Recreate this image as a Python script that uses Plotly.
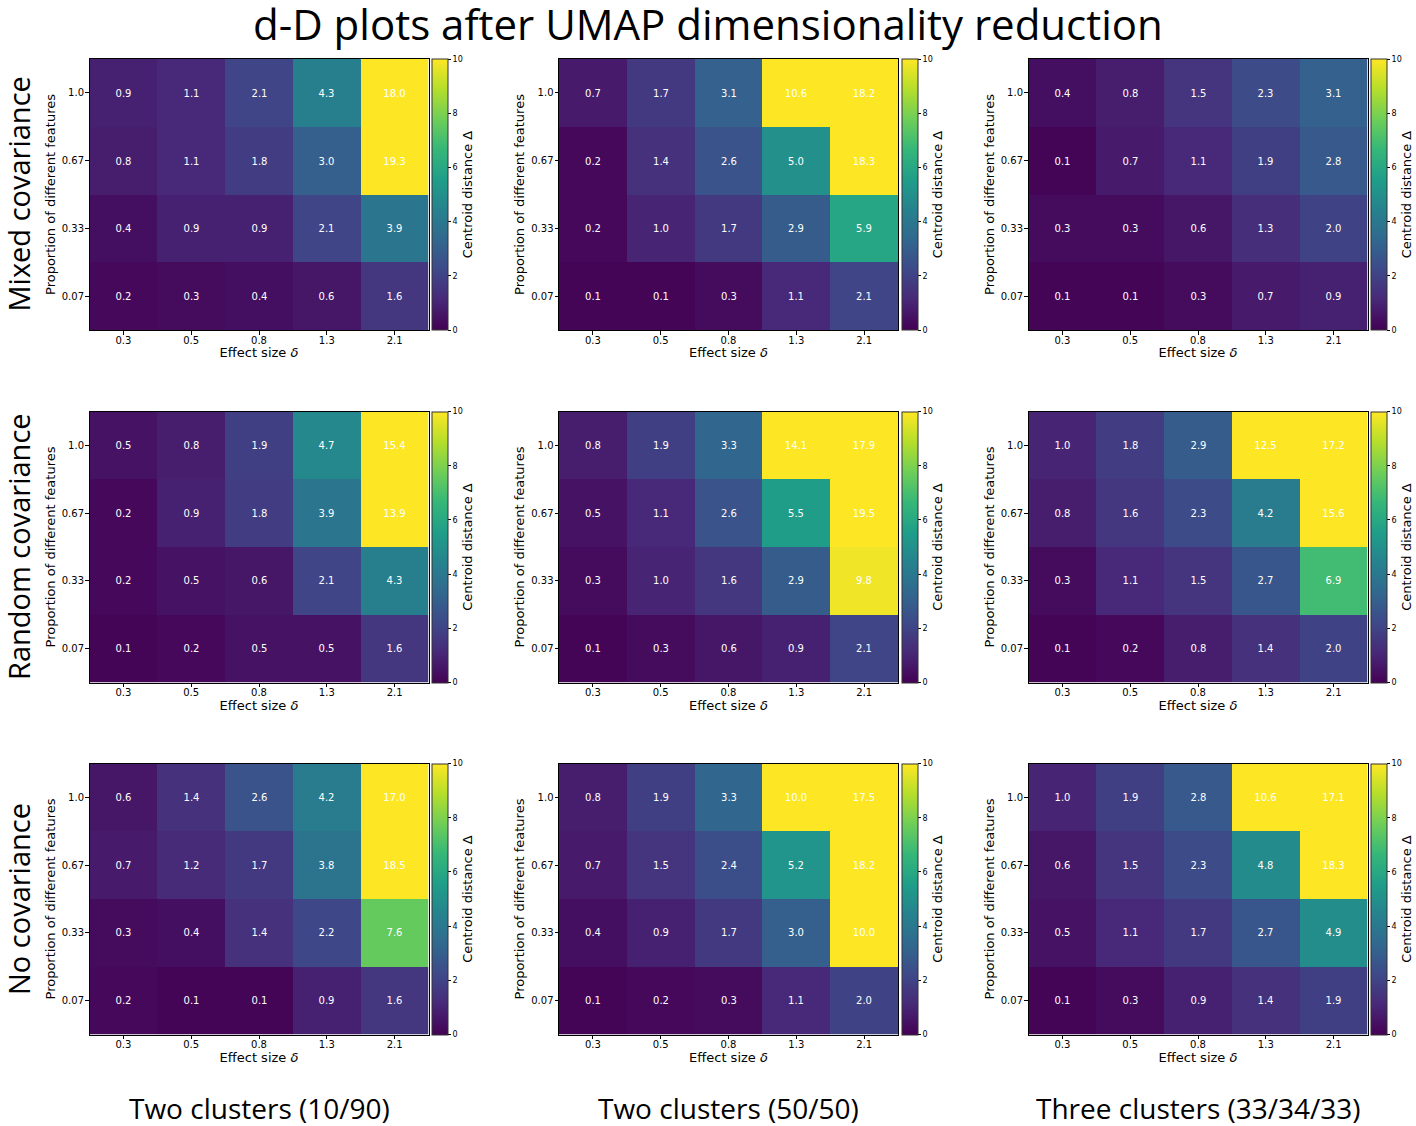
import plotly.graph_objects as go

effect_sizes = ["0.3", "0.5", "0.8", "1.3", "2.1"]
proportions = ["0.07", "0.33", "0.67", "1.0"]
row_labels = ["Mixed covariance", "Random covariance", "No covariance"]
col_labels = ["Two clusters (10/90)", "Two clusters (50/50)", "Three clusters (33/34/33)"]
title_text = "d-D plots after UMAP dimensionality reduction"

# rows of each matrix go from proportion 0.07 (bottom) to 1.0 (top)
mixed_10_90 = [[0.2, 0.3, 0.4, 0.6, 1.6],
               [0.4, 0.9, 0.9, 2.1, 3.9],
               [0.8, 1.1, 1.8, 3.0, 19.3],
               [0.9, 1.1, 2.1, 4.3, 18.0]]
mixed_50_50 = [[0.1, 0.1, 0.3, 1.1, 2.1],
               [0.2, 1.0, 1.7, 2.9, 5.9],
               [0.2, 1.4, 2.6, 5.0, 18.3],
               [0.7, 1.7, 3.1, 10.6, 18.2]]
mixed_three = [[0.1, 0.1, 0.3, 0.7, 0.9],
               [0.3, 0.3, 0.6, 1.3, 2.0],
               [0.1, 0.7, 1.1, 1.9, 2.8],
               [0.4, 0.8, 1.5, 2.3, 3.1]]
random_10_90 = [[0.1, 0.2, 0.5, 0.5, 1.6],
                [0.2, 0.5, 0.6, 2.1, 4.3],
                [0.2, 0.9, 1.8, 3.9, 13.9],
                [0.5, 0.8, 1.9, 4.7, 15.4]]
random_50_50 = [[0.1, 0.3, 0.6, 0.9, 2.1],
                [0.3, 1.0, 1.6, 2.9, 9.8],
                [0.5, 1.1, 2.6, 5.5, 19.5],
                [0.8, 1.9, 3.3, 14.1, 17.9]]
random_three = [[0.1, 0.2, 0.8, 1.4, 2.0],
                [0.3, 1.1, 1.5, 2.7, 6.9],
                [0.8, 1.6, 2.3, 4.2, 15.6],
                [1.0, 1.8, 2.9, 12.5, 17.2]]
nocov_10_90 = [[0.2, 0.1, 0.1, 0.9, 1.6],
               [0.3, 0.4, 1.4, 2.2, 7.6],
               [0.7, 1.2, 1.7, 3.8, 18.5],
               [0.6, 1.4, 2.6, 4.2, 17.0]]
nocov_50_50 = [[0.1, 0.2, 0.3, 1.1, 2.0],
               [0.4, 0.9, 1.7, 3.0, 10.0],
               [0.7, 1.5, 2.4, 5.2, 18.2],
               [0.8, 1.9, 3.3, 10.0, 17.5]]
nocov_three = [[0.1, 0.3, 0.9, 1.4, 1.9],
               [0.5, 1.1, 1.7, 2.7, 4.9],
               [0.6, 1.5, 2.3, 4.8, 18.3],
               [1.0, 1.9, 2.8, 10.6, 17.1]]

grid = [[mixed_10_90, mixed_50_50, mixed_three],
        [random_10_90, random_50_50, random_three],
        [nocov_10_90, nocov_50_50, nocov_three]]

W, H = 1416, 1126
plot_left = [89.5, 559.0, 1028.5]
plot_top = [59.0, 411.5, 763.5]
plot_w, plot_h = 339.0, 271.0

fig = go.Figure()
layout = dict(width=W, height=H, margin=dict(l=0, r=0, t=0, b=0),
              paper_bgcolor="white", plot_bgcolor="white",
              font=dict(family="DejaVu Sans", color="black"),
              showlegend=False, annotations=[])

k = 0
for r in range(3):
    for c in range(3):
        k += 1
        xa = "x" if k == 1 else f"x{k}"
        ya = "y" if k == 1 else f"y{k}"
        z = grid[r][c]
        text = [[f"{v:.1f}" for v in row] for row in z]
        left = plot_left[c]
        top = plot_top[r]
        fig.add_trace(go.Heatmap(
            z=z, x=list(range(len(effect_sizes))), y=list(range(len(proportions))),
            text=text, texttemplate="%{text}",
            textfont=dict(color="white", size=10, family="DejaVu Sans"),
            colorscale="Viridis", zmin=0, zmax=10,
            xaxis=xa, yaxis=ya, hoverinfo="skip",
            colorbar=dict(
                x=(left + plot_w + 3.5) / W, xanchor="left",
                y=1 - top / H, yanchor="top",
                len=plot_h, lenmode="pixels",
                thickness=16, thicknessmode="pixels",
                xpad=0, ypad=0,
                outlinewidth=1, outlinecolor="#333333",
                ticks="outside", ticklen=3, tickcolor="black",
                tickvals=[0, 2, 4, 6, 8, 10],
                tickfont=dict(size=8, family="DejaVu Sans"),
                title=dict(text="Centroid distance Δ", side="right",
                           font=dict(size=13, family="DejaVu Sans")),
            ),
        ))
        key_x = "xaxis" if k == 1 else f"xaxis{k}"
        key_y = "yaxis" if k == 1 else f"yaxis{k}"
        layout[key_x] = dict(
            domain=[left / W, (left + plot_w) / W], anchor=ya,
            range=[-0.5, len(effect_sizes) - 0.5],
            tickvals=list(range(len(effect_sizes))), ticktext=effect_sizes,
            ticks="outside", ticklen=3.5, tickcolor="black",
            ticklabelstandoff=-3,
            tickfont=dict(size=10, family="DejaVu Sans"),
            showline=True, linecolor="black", linewidth=1, mirror=True,
            showgrid=False, zeroline=False, automargin=False,
            title=dict(text="Effect size <i>δ</i>", standoff=3,
                       font=dict(size=13, family="DejaVu Sans")),
        )
        layout[key_y] = dict(
            domain=[1 - (top + plot_h) / H, 1 - top / H], anchor=xa,
            range=[-0.5, len(proportions) - 0.5],
            tickvals=list(range(len(proportions))), ticktext=proportions,
            ticks="outside", ticklen=3.5, tickcolor="black",
            ticklabelstandoff=-1,
            tickfont=dict(size=10, family="DejaVu Sans"),
            showline=True, linecolor="black", linewidth=1, mirror=True,
            showgrid=False, zeroline=False, automargin=False,
            title=dict(text="Proportion of different features", standoff=3,
                       font=dict(size=13, family="DejaVu Sans")),
        )

anns = layout["annotations"]
anns.append(dict(text=title_text, x=0.5, y=1 - 23 / H, xref="paper", yref="paper",
                 xanchor="center", yanchor="middle", showarrow=False,
                 font=dict(size=42, family="Open Sans", color="black")))
for r, lab in enumerate(row_labels):
    anns.append(dict(text=lab, x=18 / W, y=1 - (plot_top[r] + plot_h / 2) / H,
                     xref="paper", yref="paper", xanchor="center", yanchor="middle",
                     textangle=-90, showarrow=False,
                     font=dict(size=29, family="Open Sans", color="black")))
for c, lab in enumerate(col_labels):
    anns.append(dict(text=lab, x=(plot_left[c] + plot_w / 2) / W, y=1 - 1108 / H,
                     xref="paper", yref="paper", xanchor="center", yanchor="middle",
                     showarrow=False,
                     font=dict(size=28, family="Open Sans", color="black")))

fig.update_layout(**layout)
fig.write_html("out.html", config={"displayModeBar": False},
               post_script="document.body.style.margin='0px';")
